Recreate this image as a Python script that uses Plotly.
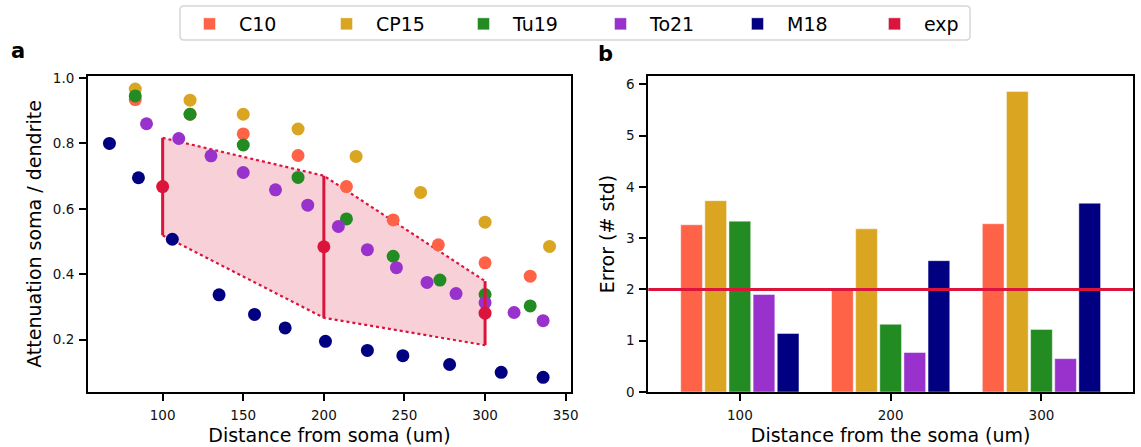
import plotly.graph_objects as go

# ---------------- data ----------------
models = ["C10", "CP15", "Tu19", "To21", "M18"]
colors = {"C10": "#FF6347", "CP15": "#DAA520", "Tu19": "#228B22",
          "To21": "#9932CC", "M18": "#000080", "exp": "#DC143C"}

c10_x = [83, 117, 150, 184, 214, 243, 271, 300, 328]
c10_y = [0.934, 0.889, 0.829, 0.763, 0.668, 0.566, 0.490, 0.435, 0.394]
cp15_x = [83, 117, 150, 184, 220, 260, 300, 340]
cp15_y = [0.966, 0.932, 0.889, 0.844, 0.760, 0.650, 0.559, 0.485]
tu19_x = [83, 117, 150, 184, 214, 243, 272, 300, 328]
tu19_y = [0.945, 0.889, 0.795, 0.696, 0.569, 0.455, 0.382, 0.338, 0.303]
to21_x = [90, 110, 130, 150, 170, 190, 209, 227, 245, 264, 282, 300, 318, 336]
to21_y = [0.860, 0.815, 0.762, 0.711, 0.658, 0.611, 0.546, 0.475, 0.420,
          0.375, 0.341, 0.313, 0.283, 0.258]
m18_x = [67, 85, 106, 135, 157, 176, 201, 227, 249, 278, 310, 336]
m18_y = [0.800, 0.695, 0.507, 0.337, 0.277, 0.236, 0.195, 0.167, 0.151,
         0.124, 0.100, 0.085]

exp_x = [100, 200, 300]
exp_mean = [0.668, 0.484, 0.281]
exp_std = [0.149, 0.217, 0.098]

err_dist = [100, 200, 300]
err_c10 = [3.26, 2.02, 3.28]
err_cp15 = [3.73, 3.18, 5.86]
err_tu19 = [3.33, 1.32, 1.22]
err_to21 = [1.90, 0.77, 0.65]
err_m18 = [1.14, 2.56, 3.68]
err_threshold = 2

scatter_data = {"C10": (c10_x, c10_y), "CP15": (cp15_x, cp15_y),
                "Tu19": (tu19_x, tu19_y), "To21": (to21_x, to21_y),
                "M18": (m18_x, m18_y)}
bar_data = {"C10": err_c10, "CP15": err_cp15, "Tu19": err_tu19,
            "To21": err_to21, "M18": err_m18}

FONT = "DejaVu Sans"
W, H = 1141, 447
ML, MR, MT, MB = 88, 8, 76, 55
PH = H - MT - MB
pw = W - ML - MR


def px_x(p):
    return (p - ML) / pw


def px_y(p):
    return 1 + (MT - p) / PH


fig = go.Figure()

# ---------------- panel a ----------------
upper = [m + s for m, s in zip(exp_mean, exp_std)]
lower = [m - s for m, s in zip(exp_mean, exp_std)]
fig.add_trace(go.Scatter(
    x=exp_x + exp_x[::-1], y=upper + lower[::-1], fill="toself",
    fillcolor="rgba(220,20,60,0.2)", line=dict(width=0), mode="lines",
    showlegend=False, hoverinfo="skip", xaxis="x", yaxis="y"))
for band in (upper, lower):
    fig.add_trace(go.Scatter(
        x=exp_x, y=band, mode="lines",
        line=dict(color=colors["exp"], width=2.2, dash="dot"),
        showlegend=False, xaxis="x", yaxis="y"))

for m in models:
    xs, ys = scatter_data[m]
    fig.add_trace(go.Scatter(
        x=xs, y=ys, mode="markers",
        marker=dict(color=colors[m], size=13, line=dict(width=0)),
        showlegend=False, xaxis="x", yaxis="y"))

fig.add_trace(go.Scatter(
    x=exp_x, y=exp_mean, mode="markers",
    marker=dict(color=colors["exp"], size=13),
    error_y=dict(type="data", array=exp_std, width=0, thickness=3,
                 color=colors["exp"]),
    showlegend=False, xaxis="x", yaxis="y"))

# ---------------- panel b ----------------
for m in models:
    fig.add_trace(go.Bar(
        x=err_dist, y=bar_data[m], name=m, marker_color=colors[m],
        marker_line=dict(color="rgba(255,255,255,0.45)", width=1),
        xaxis="x2", yaxis="y2"))
# legend-only entry for the experimental data (kept off the bar axes)
fig.add_trace(go.Bar(x=[None], y=[None], name="exp",
                     marker_color=colors["exp"], xaxis="x", yaxis="y"))

fig.add_shape(type="line", xref="x2 domain", yref="y2", x0=0, x1=1,
              y0=err_threshold, y1=err_threshold,
              line=dict(color=colors["exp"], width=3))

# legend frame (rounded, like the reference)
x0, x1, y0, y1, r = px_x(180), px_x(970), px_y(6), px_y(40), 4
rx, ry = r / pw, r / PH
path = (f"M{x0+rx},{y0} L{x1-rx},{y0} Q{x1},{y0} {x1},{y0-ry} "
        f"L{x1},{y1+ry} Q{x1},{y1} {x1-rx},{y1} L{x0+rx},{y1} "
        f"Q{x0},{y1} {x0},{y1+ry} L{x0},{y0-ry} Q{x0},{y0} {x0+rx},{y0} Z")
fig.add_shape(type="path", xref="paper", yref="paper", path=path,
              line=dict(color="#d6d6d6", width=1.5), fillcolor="white",
              layer="below")

axis_common = dict(showline=True, linecolor="black", linewidth=2,
                   mirror=True, ticks="outside", ticklen=7, tickwidth=2,
                   tickcolor="black", showgrid=False, zeroline=False,
                   tickfont=dict(size=13.5, color="#111", family=FONT))

fig.update_layout(
    width=W, height=H,
    margin=dict(l=ML, r=MR, t=MT, b=MB, autoexpand=False),
    paper_bgcolor="white", plot_bgcolor="white",
    font=dict(family=FONT, color="black"),
    barmode="group", bargap=0.2, bargroupgap=0.1,
    xaxis=dict(domain=[0, (571 - ML) / pw], range=[53.7, 353.3],
               tickvals=[100, 150, 200, 250, 300, 350],
               ticklabelstandoff=3,
               title=dict(text="Distance from soma (um)",
                          font=dict(size=19), standoff=6),
               **axis_common),
    yaxis=dict(domain=[0, 1], range=[0.04, 1.006],
               tickvals=[0.2, 0.4, 0.6, 0.8, 1.0], tickformat=".1f",
               ticklabelstandoff=2,
               title=dict(text="Attenuation soma / dendrite",
                          font=dict(size=19), standoff=6),
               **axis_common),
    xaxis2=dict(domain=[(648.3 - ML) / pw, 1], range=[39.3, 360.7],
                tickvals=[100, 200, 300], anchor="y2",
                ticklabelstandoff=3,
                title=dict(text="Distance from the soma (um)",
                           font=dict(size=19), standoff=6),
                **axis_common),
    yaxis2=dict(domain=[0, 1], range=[0, 6.16], anchor="x2",
                tickvals=[0, 1, 2, 3, 4, 5, 6],
                ticklabelstandoff=2,
                title=dict(text="Error (# std)", font=dict(size=19),
                           standoff=6),
                **axis_common),
    legend=dict(orientation="h", x=px_x(180), xanchor="left",
                y=px_y(5), yanchor="top", bgcolor="rgba(0,0,0,0)",
                borderwidth=0,
                font=dict(size=19, family=FONT), itemwidth=49,
                entrywidth=73, entrywidthmode="pixels", tracegroupgap=0),
    annotations=[
        dict(text="<b>a</b>", x=px_x(18), y=px_y(51),
             xref="paper", yref="paper", showarrow=False,
             xanchor="center", yanchor="middle",
             font=dict(size=21, family=FONT)),
        dict(text="<b>b</b>", x=px_x(605), y=px_y(54),
             xref="paper", yref="paper", showarrow=False,
             xanchor="center", yanchor="middle",
             font=dict(size=21, family=FONT)),
    ],
)

fig.write_html("out.html")
